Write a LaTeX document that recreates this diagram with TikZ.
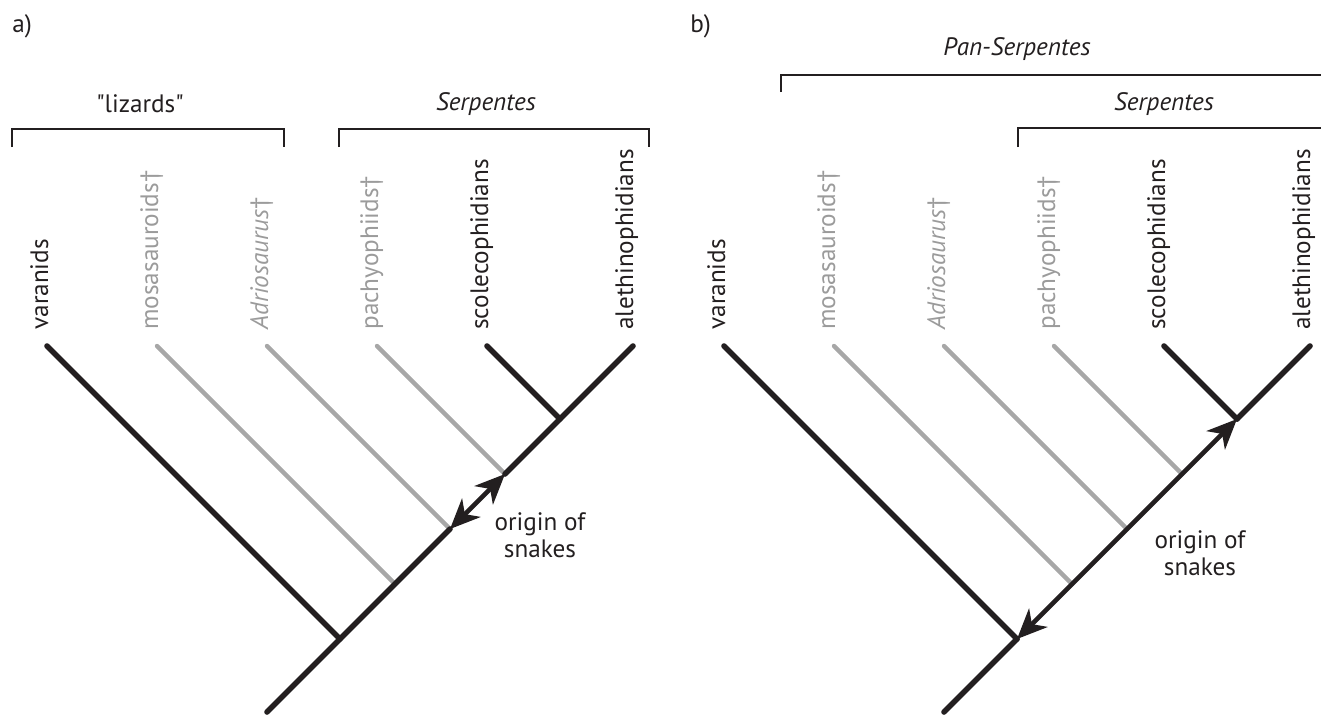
\documentclass[tikz,border=0pt]{standalone}
\usepackage{fontspec}
\setmainfont{PT Sans}
\newfontfamily\plainquotefont{PT Sans}
\usetikzlibrary{arrows.meta}
\definecolor{ink}{RGB}{35,31,32}
\definecolor{ghost}{RGB}{167,167,167}
\definecolor{ghosttext}{RGB}{155,155,155}
\begin{document}
\begin{tikzpicture}[x=0.5pt,y=-0.5pt,
  blackbranch/.style={draw=ink,line width=2.8pt,line cap=round},
  greybranch/.style={draw=ghost,line width=2.2pt,line cap=round},
  originarrow/.style={draw=ink,line width=2.3pt,
     {Stealth[length=15pt,width=13pt,inset=4.5pt]}-{Stealth[length=15pt,width=13pt,inset=4.5pt]}},
  cladebracket/.style={draw=ink,line width=0.8pt},
  taxon/.style={rotate=90,anchor=base west,inner sep=0pt,font=\fontsize{12.6}{15}\selectfont},
  blacktaxon/.style={taxon,text=ink},
  greytaxon/.style={taxon,text=ghosttext},
  header/.style={anchor=base,inner sep=0pt,font=\fontsize{12.6}{15}\selectfont,text=ink},
  panel/.style={anchor=base west,inner sep=0pt,font=\fontsize{12.6}{15}\selectfont,text=ink}]
\useasboundingbox (0,0) rectangle (1321,714);

% ---------- panel a ----------
\node[panel] (pa) at (12,32) {a)};
\coordinate (aTva) at (47,346);
\coordinate (aTmo) at (157,346);
\coordinate (aTad) at (267,346);
\coordinate (aTpa) at (377,346);
\coordinate (aTsc) at (487,346);
\coordinate (aTal) at (633,346);
\coordinate (aJva) at (340,639);
\coordinate (aJmo) at (395,584);
\coordinate (aJad) at (450,529);
\coordinate (aJpa) at (505,474);
\coordinate (aJsc) at (560,419);
\coordinate (aRoot) at (267,712);

\draw[greybranch] (aTmo) -- (aJmo);
\draw[greybranch] (aTad) -- (aJad);
\draw[greybranch] (aTpa) -- (aJpa);
\draw[blackbranch] (aTva) -- (aJva);
\draw[blackbranch] (aTsc) -- (aJsc);
\draw[blackbranch] (aRoot) -- (aJad);
\draw[blackbranch] (aJpa) -- (aTal);
\draw[originarrow] (aJad) -- (aJpa);

\node[blacktaxon] (aLva) at (48,330) {varanids};
\node[greytaxon] (aLmo) at (158,330) {mosasauroids†};
\node[greytaxon] (aLad) at (268,330) {\textit{Adriosaurus}†};
\node[greytaxon] (aLpa) at (378,330) {pachyophiids†};
\node[blacktaxon] (aLsc) at (488,330) {scolecophidians};
\node[blacktaxon] (aLal) at (633,330) {alethinophidians};

\draw[cladebracket] (12,147) -- (12,129) -- (284,129) -- (284,147);
\node[header] (aHliz) at (140,112) {{\plainquotefont"}lizards{\plainquotefont"}};
\draw[cladebracket] (339,147) -- (339,129) -- (649,129) -- (649,147);
\node[header] (aHser) at (486,110) {\textit{Serpentes}};

\node[header] (aO1) at (540,530) {origin of};
\node[header] (aO2) at (540,557) {snakes};

% ---------- panel b ----------
\node[panel] (pb) at (690,32) {b)};
\coordinate (bTva) at (724,346);
\coordinate (bTmo) at (834,346);
\coordinate (bTad) at (944,346);
\coordinate (bTpa) at (1054,346);
\coordinate (bTsc) at (1164,346);
\coordinate (bTal) at (1310,346);
\coordinate (bJva) at (1017,639);
\coordinate (bJmo) at (1072,584);
\coordinate (bJad) at (1127,529);
\coordinate (bJpa) at (1182,474);
\coordinate (bJsc) at (1237,419);
\coordinate (bRoot) at (944,712);

\draw[greybranch] (bTmo) -- (bJmo);
\draw[greybranch] (bTad) -- (bJad);
\draw[greybranch] (bTpa) -- (bJpa);
\draw[blackbranch] (bTva) -- (bJva);
\draw[blackbranch] (bTsc) -- (bJsc);
\draw[blackbranch] (bRoot) -- (bJva);
\draw[blackbranch] (bJsc) -- (bTal);
\draw[originarrow] (bJva) -- (bJsc);

\node[blacktaxon] (bLva) at (725,330) {varanids};
\node[greytaxon] (bLmo) at (835,330) {mosasauroids†};
\node[greytaxon] (bLad) at (945,330) {\textit{Adriosaurus}†};
\node[greytaxon] (bLpa) at (1055,330) {pachyophiids†};
\node[blacktaxon] (bLsc) at (1165,330) {scolecophidians};
\node[blacktaxon] (bLal) at (1310,330) {alethinophidians};

\draw[cladebracket] (781,92) -- (781,75) -- (1325,75);
\node[header] (bHpan) at (1017,55) {\textit{Pan-Serpentes}};
\draw[cladebracket] (1018,147) -- (1018,128) -- (1325,128);
\node[header] (bHser) at (1164,110) {\textit{Serpentes}};

\node[header] (bO1) at (1200,548) {origin of};
\node[header] (bO2) at (1200,575) {snakes};
\end{tikzpicture}
\end{document}
